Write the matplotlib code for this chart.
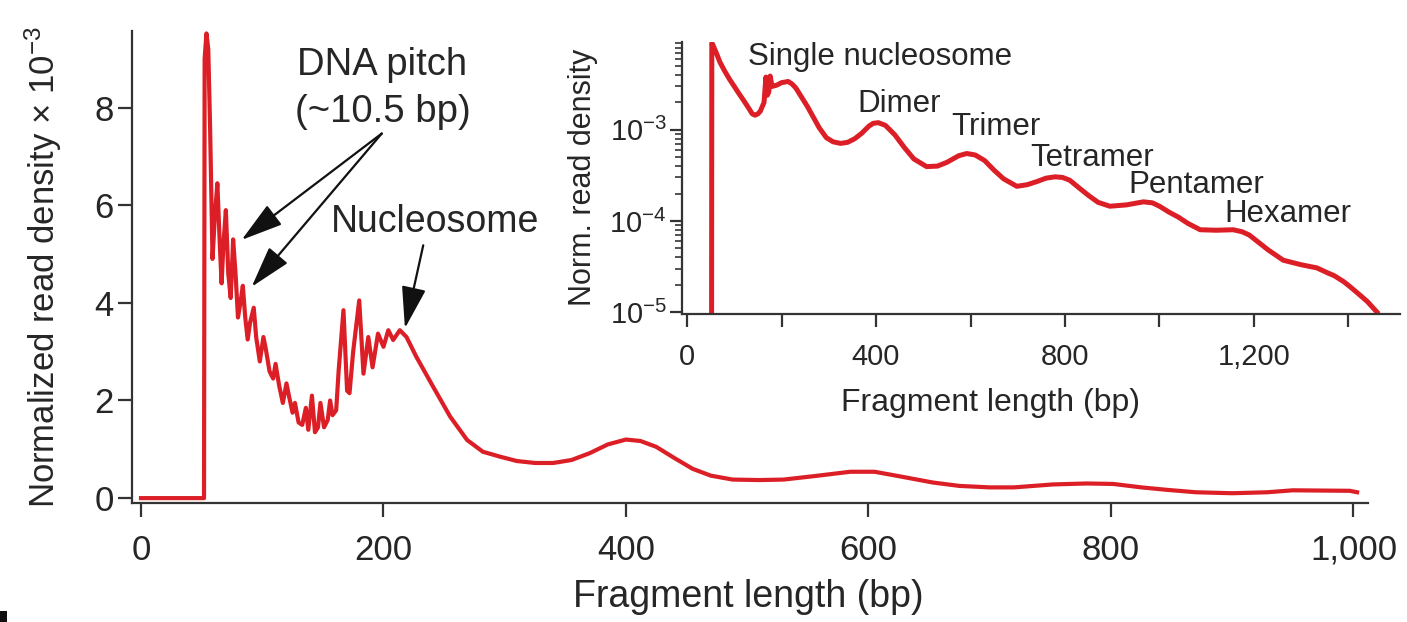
import matplotlib
matplotlib.use('Agg')
import matplotlib.pyplot as plt
from matplotlib.patches import Rectangle
from matplotlib.ticker import FixedLocator, LogLocator, NullFormatter, LogFormatterSciNotation

plt.rcParams['font.family'] = ['Liberation Sans', 'DejaVu Sans']
plt.rcParams['mathtext.fontset'] = 'custom'
plt.rcParams['mathtext.rm'] = 'Liberation Sans'
plt.rcParams['mathtext.it'] = 'Liberation Sans:italic'
plt.rcParams['mathtext.bf'] = 'Liberation Sans:bold'
plt.rcParams['mathtext.sf'] = 'Liberation Sans'

# ---------------- data ----------------
main_bp = [0, 52, 52.5, 54, 55.5, 57, 59, 61, 63, 65, 66.5, 68, 70, 72, 74, 76, 78, 80, 82, 84,
           86, 88, 90, 93, 95, 98, 101, 103, 106, 109, 111, 114, 117, 120, 122, 125, 127, 130,
           133, 136, 138, 141, 143.5, 146, 148, 151, 154, 156, 158, 161, 163, 167, 170, 172,
           175, 180, 183.5, 187.5, 191, 195.5, 200, 204, 208, 213.5, 219, 227, 241, 255, 269,
           282, 296, 310, 325, 340, 355, 370, 385, 400, 412, 425, 440, 455, 470, 488, 510, 530,
           555, 585, 605, 625, 653, 675, 700, 720, 752, 780, 802, 825, 846, 870, 900, 929, 950,
           997, 1003]
main_density = [0, 0, 9.0, 9.52, 9.2, 7.6, 4.9, 5.8, 6.45, 5.2, 4.4, 5.2, 5.9, 4.6, 4.1, 5.3, 4.6,
                3.7, 4.0, 4.35, 3.7, 3.25, 3.6, 3.9, 3.3, 2.8, 3.3, 3.05, 2.6, 2.45, 2.75, 2.3,
                1.95, 2.35, 2.1, 1.75, 1.95, 1.55, 1.5, 1.85, 1.4, 2.1, 1.35, 1.45, 1.95, 1.45,
                1.6, 2.0, 1.7, 1.8, 2.6, 3.85, 2.2, 2.15, 3.0, 4.05, 2.55, 3.3, 2.68, 3.37, 3.1,
                3.44, 3.24, 3.44, 3.3, 2.9, 2.28, 1.67, 1.19, 0.95, 0.85, 0.76, 0.72, 0.72, 0.78,
                0.92, 1.1, 1.2, 1.17, 1.05, 0.82, 0.6, 0.46, 0.38, 0.37, 0.38, 0.45, 0.54, 0.54,
                0.45, 0.32, 0.25, 0.22, 0.22, 0.28, 0.3, 0.29, 0.22, 0.17, 0.12, 0.1, 0.12, 0.16,
                0.15, 0.12]

inset_bp = [52, 52.5, 55, 62, 70, 80, 90, 100, 110, 120, 130, 138, 144, 150, 155, 163, 167, 170,
            173, 176, 180, 190, 200, 214, 222, 230, 255, 280, 295, 309, 325, 340, 355, 370, 385,
            394, 405, 420, 440, 460, 480, 507, 530, 550, 575, 592, 610, 630, 650, 670, 698, 720,
            740, 760, 779, 795, 810, 830, 850, 870, 895, 930, 966, 985, 1000, 1020, 1040, 1060,
            1086, 1120, 1156, 1175, 1190, 1210, 1230, 1262, 1300, 1333, 1355, 1370, 1390, 1403,
            1420, 1440, 1460]
inset_density = [9.0e-6, 9.0e-3, 8.5e-3, 7.0e-3, 5.5e-3, 4.4e-3, 3.6e-3, 3.0e-3, 2.5e-3, 2.1e-3,
                 1.75e-3, 1.5e-3, 1.45e-3, 1.5e-3, 1.6e-3, 2.0e-3, 3.8e-3, 2.4e-3, 2.6e-3,
                 3.9e-3, 3.0e-3, 3.1e-3, 3.3e-3, 3.4e-3, 3.2e-3, 2.9e-3, 1.8e-3, 1.05e-3,
                 8.2e-4, 7.4e-4, 7.1e-4, 7.3e-4, 8.0e-4, 9.2e-4, 1.1e-3, 1.18e-3, 1.2e-3,
                 1.12e-3, 8.8e-4, 6.4e-4, 4.8e-4, 3.95e-4, 4.0e-4, 4.4e-4, 5.2e-4, 5.5e-4,
                 5.3e-4, 4.6e-4, 3.6e-4, 2.9e-4, 2.4e-4, 2.5e-4, 2.7e-4, 2.95e-4, 3.05e-4,
                 3.0e-4, 2.8e-4, 2.3e-4, 1.9e-4, 1.6e-4, 1.45e-4, 1.5e-4, 1.62e-4, 1.58e-4,
                 1.45e-4, 1.25e-4, 1.1e-4, 9.4e-5, 8.0e-5, 7.9e-5, 8.0e-5, 7.6e-5, 7.0e-5,
                 5.8e-5, 4.8e-5, 3.7e-5, 3.3e-5, 3.05e-5, 2.7e-5, 2.5e-5, 2.15e-5, 1.9e-5,
                 1.6e-5, 1.3e-5, 1.0e-5]

main_xticks = [0, 200, 400, 600, 800, 1000]
main_xticklabels = ['0', '200', '400', '600', '800', '1,000']
main_yticks = [0, 2, 4, 6, 8]
inset_xticks = [0, 200, 400, 600, 800, 1000, 1200, 1400]
inset_xticklabels = ['0', '', '400', '', '800', '', '1,200', '']
inset_yticks = [1e-5, 1e-4, 1e-3]
oligomer_labels = ['Single nucleosome', 'Dimer', 'Trimer', 'Tetramer', 'Pentamer', 'Hexamer']

RED = '#dc1f27'
AX = '#333333'
TXT = '#262626'

fig = plt.figure(figsize=(14.07, 6.22), dpi=100)

# ---------------- main axes ----------------
ax = fig.add_axes([0.09382, 0.19132, 0.87846, 0.75884])
ax.plot(main_bp, main_density, color=RED, lw=3.0)
ax.set_xlim(-7.4, 1012)
ax.set_ylim(-0.1, 9.57)
for s in ['top', 'right']:
    ax.spines[s].set_visible(False)
for s in ['left', 'bottom']:
    ax.spines[s].set_color(AX)
    ax.spines[s].set_linewidth(1.6)
ax.set_xticks(main_xticks)
ax.set_xticklabels(main_xticklabels)
ax.set_yticks(main_yticks)
ax.tick_params(direction='out', length=10, width=1.6, color=AX, labelsize=25,
               labelcolor=TXT)
ax.tick_params(axis='x', pad=12)
ax.tick_params(axis='y', pad=3)
ax.set_xlabel('Fragment length (bp)', fontsize=27, color=TXT)
ax.xaxis.set_label_coords(0.499, -0.16)
ax.set_ylabel('Normalized read density × 10$^{-3}$', fontsize=25, color=TXT)
ax.yaxis.set_label_coords(-0.055, 0.5)

# annotations main
ax.text(198.8, 8.67, 'DNA pitch', fontsize=27.5, color=TXT, ha='center', va='baseline')
ax.text(199.5, 7.71, '(~10.5 bp)', fontsize=27.5, color=TXT, ha='center', va='baseline')
ax.text(242.5, 5.457, 'Nucleosome', fontsize=27, color=TXT, ha='center', va='baseline')
arrow_kw = dict(arrowstyle='-|>,head_length=1.3,head_width=0.38', color='#111111', lw=1.6,
                mutation_scale=20, shrinkA=0, shrinkB=0)
ax.annotate('', xy=(83.0, 5.29), xytext=(198.6, 7.47), arrowprops=arrow_kw)
ax.annotate('', xy=(91.3, 4.33), xytext=(198.6, 7.47), arrowprops=arrow_kw)
ax.annotate('', xy=(217.7, 3.48), xytext=(232.8, 5.18), arrowprops=arrow_kw)

# ---------------- inset ----------------
ins = fig.add_axes([0.48472, 0.49518, 0.5103, 0.43778])
ins.patch.set_alpha(0)
ins.plot(inset_bp, inset_density, color=RED, lw=3.6)
ins.set_yscale('log')
ins.set_xlim(-10.6, 1509)
ins.set_ylim(0.95e-5, 9.3e-3)
for s in ['top', 'right']:
    ins.spines[s].set_visible(False)
for s in ['left', 'bottom']:
    ins.spines[s].set_color(AX)
    ins.spines[s].set_linewidth(1.6)
ins.xaxis.set_major_locator(FixedLocator(inset_xticks))
ins.set_xticklabels(inset_xticklabels)
ins.yaxis.set_major_locator(FixedLocator(inset_yticks))
ins.yaxis.set_major_formatter(LogFormatterSciNotation())
ins.yaxis.set_minor_locator(LogLocator(base=10, subs=range(2, 10)))
ins.yaxis.set_minor_formatter(NullFormatter())
ins.tick_params(which='major', direction='out', length=9, width=1.6, color=AX,
                labelsize=21, labelcolor=TXT)
ins.tick_params(which='minor', direction='out', length=5, width=1.2, color=AX)
ins.tick_params(axis='x', pad=12)
ins.tick_params(axis='y', pad=2)
ins.set_xlabel('Fragment length (bp)', fontsize=23, color=TXT)
ins.xaxis.set_label_coords(0.429, -0.27)
ins.set_ylabel('Norm. read density', fontsize=22, color=TXT)
ins.yaxis.set_label_coords(-0.117, 0.5)

label_pos = [(0.2758, 0.9144), (0.3025, 0.743), (0.437, 0.657), (0.5706, 0.5435),
             (0.7156, 0.443), (0.8445, 0.339)]
for lab, (fx, fy) in zip(oligomer_labels, label_pos):
    ins.text(fx, fy, lab, transform=ins.transAxes, fontsize=22.5, color=TXT,
             ha='center', va='baseline')

# cropped panel-letter fragment at bottom-left corner
fig.patches.append(Rectangle((0, 0), 7 / 1407, 11 / 622, transform=fig.transFigure,
                             facecolor='#111111', edgecolor='none'))

fig.savefig('out.png', dpi=100)
